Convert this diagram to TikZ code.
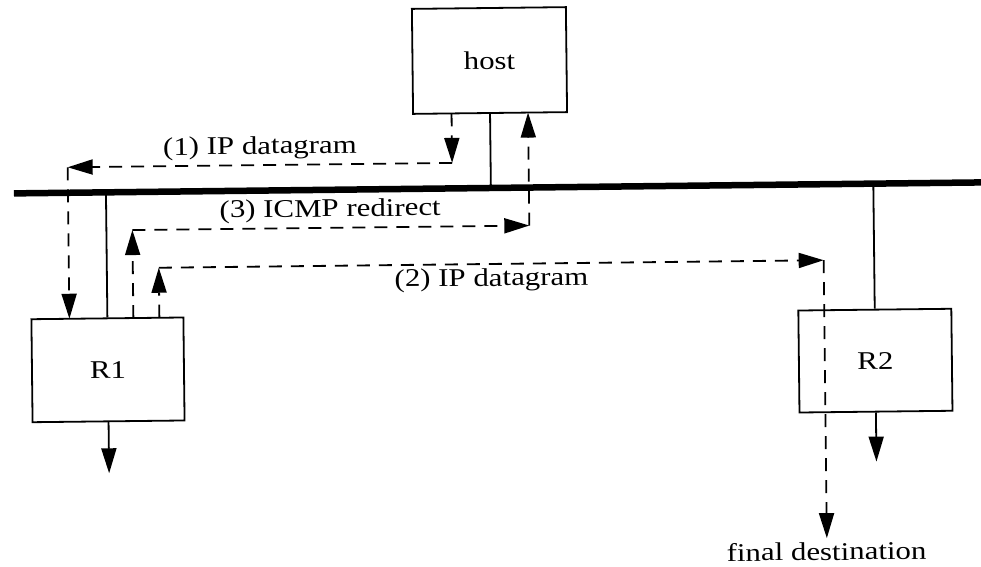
\documentclass[tikz,border=0pt]{standalone}
\usepackage{fontspec}
\setmainfont{Liberation Serif}
\usetikzlibrary{arrows.meta}
\newcommand\stretchtxt[1]{\scalebox{1.21}[1]{#1}}
\tikzset{
  box/.style={draw, line width=1.8pt, inner sep=0pt, font=\fontsize{25.5}{29}\selectfont},
  wire/.style={line width=1.8pt},
  netline/.style={line width=6.5pt},
  flow/.style={line width=1.8pt, dash pattern=on 13pt off 9pt, -{Triangle[length=25pt,width=15pt]}},
  exitarrow/.style={line width=1.8pt, -{Triangle[length=25pt,width=15pt]}},
  lbl/.style={inner sep=0pt, anchor=base, font=\fontsize{25.5}{29}\selectfont}
}
\begin{document}
\begin{tikzpicture}[x=1pt,y=-1pt]
\useasboundingbox (0,0) rectangle (981,566);
\clip (0,0) rectangle (981,566);
\begin{scope}[rotate around={0.65:(490,283)}, transform shape]
  % boxes
  \node[box, minimum width=154pt, minimum height=105pt] (host) at (492,60.5) {\stretchtxt{host}};
  \node[box, minimum width=152pt, minimum height=103pt] (R1) at (107,365.5) {\stretchtxt{R1}};
  \node[box, minimum width=153pt, minimum height=102pt] (R2) at (874.5,365) {\stretchtxt{R2}};
  % network
  \coordinate (netL) at (15,188);
  \coordinate (netR) at (1000,188);
  \coordinate (hnet) at (492,188);
  \coordinate (r1net) at (107,188);
  \coordinate (r2net) at (874.5,188);
  \draw[netline] (netL) -- (netR);
  \draw[wire] (host.south) -- (hnet);
  \draw[wire] (R1.north) -- (r1net);
  \draw[wire] (R2.north) -- (r2net);
  % exits
  \coordinate (r1out) at (107,469);
  \coordinate (r2out) at (874.5,466);
  \draw[exitarrow] (R1.south) -- (r1out);
  \draw[exitarrow] (R2.south) -- (r2out);
  % (1) IP datagram
  \coordinate (c1s) at (453.5,113);
  \coordinate (c1a) at (453.5,162.5);
  \coordinate (c1b) at (69,162.5);
  \coordinate (c1e) at (69,314);
  \draw[flow] (c1s) -- (c1a);
  \draw[flow] (c1a) -- (c1b);
  \draw[flow] (c1b) -- (c1e);
  % (3) ICMP redirect
  \coordinate (c3s) at (133,314);
  \coordinate (c3a) at (133,226);
  \coordinate (c3b) at (530,226);
  \coordinate (c3e) at (530,113);
  \draw[flow] (c3s) -- (c3a);
  \draw[flow] (c3a) -- (c3b);
  \draw[flow] (c3b) -- (c3e);
  % (2) IP datagram
  \coordinate (c2s) at (159,314);
  \coordinate (c2a) at (159,264);
  \coordinate (c2b) at (824,264);
  \coordinate (c2e) at (824,542);
  \draw[flow] (c2s) -- (c2a);
  \draw[flow] (c2a) -- (c2b);
  \draw[flow] (c2b) -- (c2e);
  % labels
  \node[lbl] (l1) at (261.5,151.5) {\stretchtxt{(1) IP datagram}};
  \node[lbl] (l3) at (331,215) {\stretchtxt{(3) ICMP redirect}};
  \node[lbl] (l2) at (491.5,286) {\stretchtxt{(2) IP datagram}};
  \node[lbl] (dest) at (823.5,564) {\stretchtxt{final destination}};
\end{scope}
\end{tikzpicture}
\end{document}
